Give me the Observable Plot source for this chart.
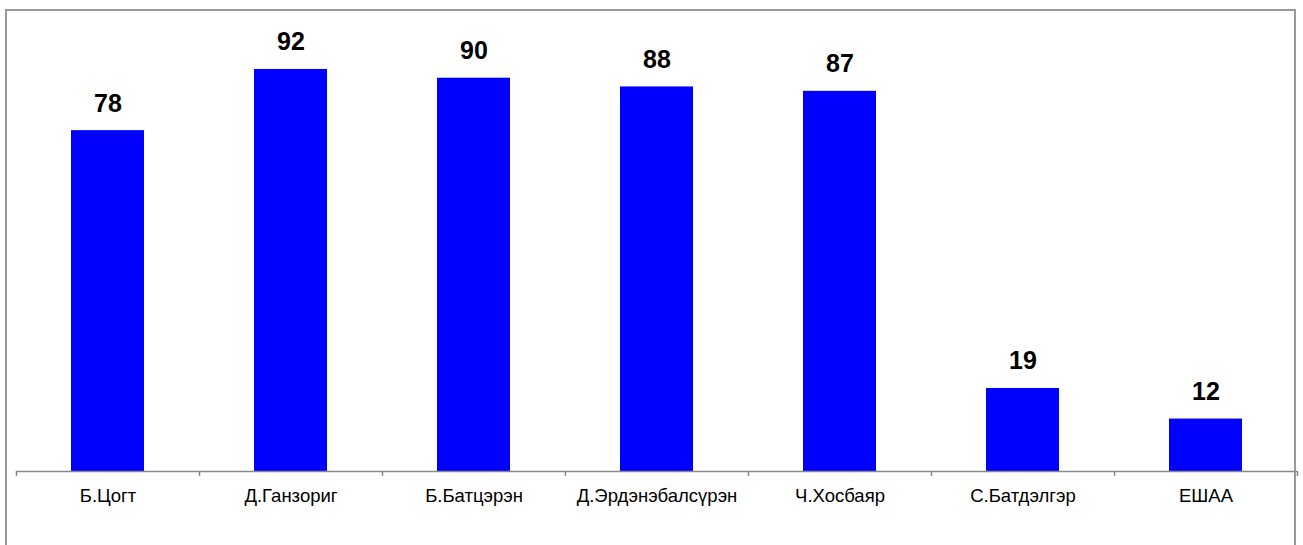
<!DOCTYPE html>
<html>
<head>
<meta charset="utf-8">
<script src="https://cdn.jsdelivr.net/npm/d3@7"></script>
<script src="https://cdn.jsdelivr.net/npm/@observablehq/plot@0.6"></script>
<style>
  html, body { margin: 0; padding: 0; background: #fff; }
  #wrap { position: relative; width: 1303px; height: 545px; overflow: hidden; }
  #frame { position: absolute; left: 5px; top: 9px; width: 1291px; height: 600px;
           border: 2px solid #999; box-sizing: border-box; pointer-events: none; }
</style>
</head>
<body>
<div id="wrap"><div id="frame"></div></div>
<script>
const names = ["Б.Цогт", "Д.Ганзориг", "Б.Батцэрэн", "Д.Эрдэнэбалсүрэн", "Ч.Хосбаяр", "С.Батдэлгэр", "ЕШАА"];
const values = [78, 92, 90, 88, 87, 19, 12];

const data = names.map((name, i) => ({name, value: values[i]}));

const W = 1303, H = 545, ml = 16, mr = 6, mt = 34, mb = 74;
const step = (W - ml - mr) / names.length;
const lastName = names[names.length - 1];

const plot = Plot.plot({
  width: W,
  height: H,
  marginLeft: ml,
  marginRight: mr,
  marginTop: mt,
  marginBottom: mb,
  style: {fontFamily: "Arial, 'Liberation Sans', sans-serif", background: "transparent"},
  x: {domain: names, paddingInner: 0.6, paddingOuter: 0.3, label: null},
  y: {domain: [0, 100], axis: null},
  marks: [
    Plot.barY(data, {x: "name", y: "value", fill: "#0000FF"}),
    Plot.ruleY([0], {stroke: "#888", strokeWidth: 1.5}),
    Plot.ruleX(names, {x: d => d, y1: 0, y2: 0, insetBottom: -5, dx: -step / 2, stroke: "#888", strokeWidth: 1.5}),
    Plot.ruleX([lastName], {x: d => d, y1: 0, y2: 0, insetBottom: -5, dx: step / 2, stroke: "#888", strokeWidth: 1.5}),
    Plot.text(data, {x: "name", y: "value", text: d => String(d.value), dy: -27,
      fontSize: 25, fontWeight: "bold", fill: "#000"}),
    Plot.axisX({tickSize: 0, tickPadding: 17, fontSize: 18.5, fill: "#000", label: null})
  ]
});

document.getElementById("wrap").prepend(plot);
</script>
</body>
</html>
